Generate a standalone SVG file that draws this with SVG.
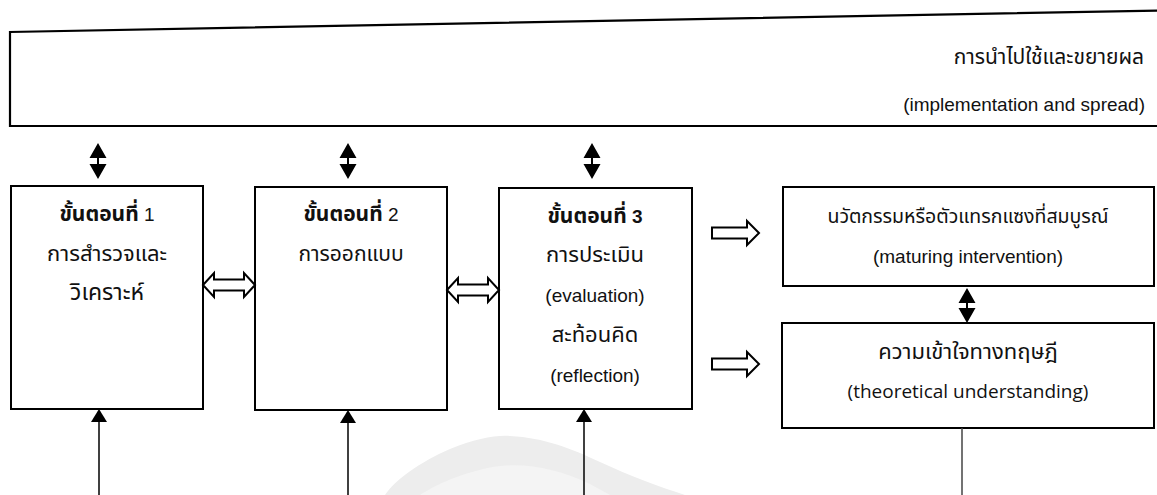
<svg xmlns="http://www.w3.org/2000/svg" width="1157" height="495" viewBox="0 0 1157 495">
  <style>
    .box { fill: #ffffff; stroke: #000000; stroke-width: 2; }
    .txt { font-family: "Liberation Sans", "Noto Sans Thai", "Noto Sans", sans-serif; font-size: 19px; fill: #111111; text-anchor: middle; }
    .th { font-family: "Noto Sans Thai", "Liberation Sans", "Noto Sans", sans-serif; font-size: 21px; }
    .bold { font-weight: bold; }
    .alt { font-family: "Open Sans", "Noto Sans", sans-serif; font-size: 19px; }
    .block { fill: #ffffff; stroke: #000000; stroke-width: 2; stroke-linejoin: miter; }
    .line { stroke: #000000; stroke-width: 1.5; fill: none; }
    .head { fill: #000000; stroke: none; }
  </style>

  <rect width="1157" height="495" fill="#ffffff"/>

  <!-- faint background emblem at the bottom -->
  <path d="M385,495 C395,480 420,462 450,449 C475,439 495,435 510,436 C545,438 570,448 600,462 C630,476 660,487 685,495 Z" fill="#ededed"/>
  <path d="M420,495 C440,482 470,470 500,466 C530,463 560,470 590,484 L610,495 Z" fill="#f4f4f4"/>

  <!-- implementation and spread band -->
  <g id="band">
    <path d="M1160,10.5 L10,32 L10,126 L1160,126" fill="#ffffff" stroke="#000000" stroke-width="2.2"/>
    <text class="txt th" x="1144" y="64" style="text-anchor:end">การนำไปใช้และขยายผล</text>
    <text class="txt" x="1145" y="111" style="text-anchor:end">(implementation and spread)</text>
  </g>

  <!-- phase 1 -->
  <g id="phase1">
    <rect class="box" x="11" y="186" width="192" height="223"/>
    <text class="txt" x="107" y="221"><tspan class="th bold">ขั้นตอนที่</tspan> 1</text>
    <text class="txt th" x="107" y="261" style="font-size:22px">การสำรวจและ</text>
    <text class="txt th" x="107" y="300" style="font-size:23px">วิเคราะห์</text>
  </g>

  <!-- phase 2 -->
  <g id="phase2">
    <rect class="box" x="255" y="187" width="192" height="223"/>
    <text class="txt" x="351" y="221"><tspan class="th bold">ขั้นตอนที่</tspan> 2</text>
    <text class="txt th" x="351" y="261">การออกแบบ</text>
  </g>

  <!-- phase 3 -->
  <g id="phase3">
    <rect class="box" x="499" y="188" width="193" height="221"/>
    <text class="txt bold" x="595" y="223"><tspan class="th">ขั้นตอนที่</tspan> 3</text>
    <text class="txt th" x="595" y="262" style="font-size:22px">การประเมิน</text>
    <text class="txt" x="595" y="302">(evaluation)</text>
    <text class="txt th" x="595" y="342" style="font-size:22px">สะท้อนคิด</text>
    <text class="txt" x="595" y="382">(reflection)</text>
  </g>

  <!-- outputs -->
  <g id="maturing">
    <rect class="box" x="783" y="187" width="371" height="99"/>
    <text class="txt th" x="968" y="223" style="font-size:19.5px">นวัตกรรมหรือตัวแทรกแซงที่สมบูรณ์</text>
    <text class="txt" x="968" y="263">(maturing intervention)</text>
  </g>

  <g id="theory">
    <rect class="box" x="782" y="323" width="372" height="105"/>
    <text class="txt th" x="968" y="359" style="font-size:22px">ความเข้าใจทางทฤษฎี</text>
    <text class="txt alt" x="968" y="398">(theoretical understanding)</text>
  </g>

  <!-- connectors -->
  <g id="connectors">
    <!-- two-way links to the band -->
    <g>
      <path class="head" d="M98,143 L106.5,158 L89.5,158 Z M98,179 L106.5,164 L89.5,164 Z"/>
      <line x1="98" y1="157" x2="98" y2="165" stroke="#000" stroke-width="2"/>
      <path class="head" d="M348,143 L356.5,158 L339.5,158 Z M348,179 L356.5,164 L339.5,164 Z"/>
      <line x1="348" y1="157" x2="348" y2="165" stroke="#000" stroke-width="2"/>
      <path class="head" d="M592,143 L600.5,158 L583.5,158 Z M592,179 L600.5,164 L583.5,164 Z"/>
      <line x1="592" y1="157" x2="592" y2="165" stroke="#000" stroke-width="2"/>
      <path class="head" d="M967,288 L975.5,303 L958.5,303 Z M967,323 L975.5,308 L958.5,308 Z"/>
      <line x1="967" y1="302" x2="967" y2="309" stroke="#000" stroke-width="2"/>
    </g>

    <!-- hollow two-way arrows between phases -->
    <path class="block" d="M203,285 L214,273 L214,279.5 L244,279.5 L244,273 L255,285 L244,297 L244,290.5 L214,290.5 L214,297 Z"/>
    <path class="block" d="M447,290 L458,278 L458,284.5 L488,284.5 L488,278 L499,290 L488,302 L488,295.5 L458,295.5 L458,302 Z"/>

    <!-- hollow arrows to outputs -->
    <path class="block" d="M712,227.5 L747,227.5 L747,221 L759,233 L747,245 L747,238.5 L712,238.5 Z"/>
    <path class="block" d="M712,358.5 L747,358.5 L747,352 L759,364 L747,376 L747,369.5 L712,369.5 Z"/>

    <!-- upward feeds from below -->
    <line class="line" x1="99" y1="495" x2="99" y2="420"/>
    <path class="head" d="M99,409 L107,422 L91,422 Z"/>
    <line class="line" x1="348" y1="495" x2="348" y2="421"/>
    <path class="head" d="M348,410 L356,423 L340,423 Z"/>
    <line class="line" x1="584" y1="495" x2="584" y2="420" stroke-width="2"/>
    <path class="head" d="M584,409 L592,422 L576,422 Z"/>

    <!-- line down from theoretical understanding -->
    <line x1="962" y1="428" x2="962" y2="495" stroke="#444444" stroke-width="1.5"/>
  </g>
</svg>
